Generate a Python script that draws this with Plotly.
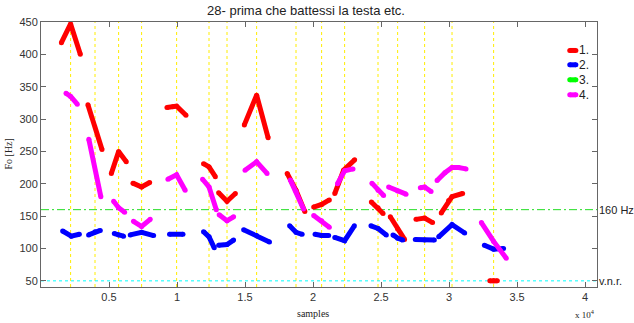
import plotly.graph_objects as go

# F0 contours per formant track; each inner list is one voiced stretch of (sample, Hz)
track_1 = [
    [(1500, 418), (2176, 447), (2890, 400)],
    [(3450, 322), (4485, 253)],
    [(5170, 216), (5706, 250), (6270, 234)],
    [(6760, 201), (7397, 195), (7990, 202)],
    [(9260, 318), (9700, 319), (9971, 320), (10660, 306)],
    [(11950, 231), (12353, 226), (12820, 211)],
    [(13060, 186), (13676, 173), (14290, 185)],
    [(14950, 291), (15853, 337), (16700, 271)],
    [(18100, 216), (18750, 190), (19400, 157)],
    [(20050, 164), (20632, 168), (21200, 175)],
    [(21600, 185), (22250, 221), (23060, 237)],
    [(24290, 172), (24779, 163), (25150, 154)],
    [(25680, 149), (26221, 130), (26730, 114)],
    [(27570, 145), (28206, 147), (28790, 140)],
    [(29430, 155), (29971, 174), (30221, 180), (31000, 185)],
    [(33000, 50), (33279, 50), (33550, 50)],
]
track_2 = [
    [(1590, 127), (2228, 119), (2820, 122)],
    [(3500, 121), (3971, 126), (4360, 128)],
    [(5390, 123), (5706, 121), (6070, 119)],
    [(6560, 121), (7397, 125), (8280, 120)],
    [(9450, 122), (10440, 122)],
    [(11950, 126), (12353, 118), (12740, 101)],
    [(13060, 105), (13676, 106), (14160, 113)],
    [(14900, 129), (15853, 120), (16800, 110)],
    [(18280, 135), (18750, 125), (19200, 122)],
    [(20150, 122), (20632, 120), (21150, 120)],
    [(21600, 117), (22324, 112), (23040, 135)],
    [(24260, 135), (24779, 131), (25390, 121)],
    [(25880, 121), (26221, 116), (26600, 113)],
    [(27520, 114), (28206, 113), (28920, 113)],
    [(29240, 118), (30221, 137), (31150, 124)],
    [(32600, 105), (33279, 99), (34010, 100)],
]
track_3 = []
track_4 = [
    [(1838, 340), (2176, 335), (2669, 323)],
    [(3515, 269), (4400, 180)],
    [(5340, 173), (5706, 163), (6150, 156)],
    [(6800, 142), (7397, 134), (8030, 145)],
    [(9330, 207), (9971, 214), (10600, 190)],
    [(11880, 207), (12353, 195), (12890, 160)],
    [(13100, 152), (13676, 143), (14160, 149)],
    [(15000, 221), (15853, 234), (16620, 216)],
    [(18330, 206), (18750, 188), (19300, 161)],
    [(20050, 151), (20632, 143), (21200, 133)],
    [(21800, 200), (22324, 220), (22940, 223)],
    [(24330, 201), (24779, 190), (25190, 182)],
    [(25560, 195), (26221, 189), (26840, 184)],
    [(27890, 194), (28206, 195), (28680, 188)],
    [(29120, 205), (29700, 217), (30221, 225), (30700, 225), (31250, 223)],
    [(32380, 140), (33279, 111), (34210, 85)],
]

# syllable boundary markers (samples)
boundaries = [2176, 3971, 5706, 7397, 9971, 12353, 13676, 15853, 18750,
              20632, 22324, 24779, 26221, 28206, 30221, 33279]

threshold_hz = 160
vnr_hz = 50

x_ticks = [5000, 10000, 15000, 20000, 25000, 30000, 35000, 40000]
x_tick_labels = ["0.5", "1", "1.5", "2", "2.5", "3", "3.5", "4"]
y_ticks = [50, 100, 150, 200, 250, 300, 350, 400, 450]

series = [("1.", "#ff0000", track_1), ("2.", "#0000ff", track_2),
          ("3.", "#00ff00", track_3), ("4.", "#ff00ff", track_4)]


def flatten(segments):
    xs, ys = [], []
    for seg in segments:
        for sx, sy in seg:
            xs.append(sx)
            ys.append(sy)
        xs.append(None)
        ys.append(None)
    return xs, ys


fig = go.Figure()

for name, color, segs in series:
    if not segs:
        continue
    xs, ys = flatten(segs)
    fig.add_trace(go.Scatter(
        x=xs, y=ys, mode="lines+markers", name=name,
        line=dict(color=color, width=5),
        marker=dict(color=color, size=5),
        connectgaps=False, showlegend=False, hoverinfo="skip"))

# legend drawn on an overlay axis in fractional coordinates
leg_x0, leg_x1 = 0.951, 0.962
leg_rows = [0.8926, 0.8385, 0.7818, 0.7251]
for (name, color, _), ly in zip(series, leg_rows):
    fig.add_trace(go.Scatter(
        x=[leg_x0, leg_x1], y=[ly, ly], mode="lines+markers",
        line=dict(color=color, width=5), marker=dict(color=color, size=5),
        xaxis="x2", yaxis="y2", showlegend=False, hoverinfo="skip"))
    fig.add_annotation(x=leg_x1, y=ly, xref="x2", yref="y2", text=name,
                       showarrow=False, xanchor="left", yanchor="middle", xshift=1,
                       font=dict(family="Liberation Sans", size=12, color="#222"))

shapes = []
for b in boundaries:
    shapes.append(dict(type="line", xref="x", yref="paper", x0=b, x1=b, y0=0, y1=1,
                       line=dict(color="#ffee00", width=1, dash="dot"), layer="below"))
shapes.append(dict(type="line", xref="paper", yref="y", x0=0, x1=1,
                   y0=threshold_hz, y1=threshold_hz,
                   line=dict(color="#22dd22", width=1, dash="8px,3px,2px,3px"), layer="below"))
shapes.append(dict(type="line", xref="paper", yref="y", x0=0, x1=1,
                   y0=vnr_hz, y1=vnr_hz,
                   line=dict(color="#00ffff", width=1, dash="dot"), layer="below"))

axis_common = dict(showline=True, linecolor="#666", linewidth=1, mirror="ticks",
                   ticks="inside", ticklen=5, tickcolor="#666", showgrid=False,
                   zeroline=False,
                   tickfont=dict(family="Liberation Sans", size=11, color="#333"))

fig.update_layout(
    width=634, height=323,
    margin=dict(l=41, r=37, t=22, b=36),
    paper_bgcolor="white", plot_bgcolor="white",
    shapes=shapes,
    xaxis=dict(range=[0, 40880], tickvals=x_ticks, ticktext=x_tick_labels, **axis_common),
    yaxis=dict(range=[40.5, 450], tickvals=y_ticks, **axis_common),
    xaxis2=dict(overlaying="x", range=[0, 1], visible=False),
    yaxis2=dict(overlaying="y", range=[0, 1], visible=False),
)

# title
fig.add_annotation(x=0.477, y=1, xref="paper", yref="paper", yshift=2,
                   text="28- prima che battessi la testa etc.", showarrow=False,
                   xanchor="center", yanchor="bottom",
                   font=dict(family="Liberation Sans", size=13, color="#222"))
# axis titles
fig.add_annotation(x=20000, y=0, xref="x", yref="paper", yshift=-26,
                   text="samples", showarrow=False, xanchor="center", yanchor="middle",
                   font=dict(family="Liberation Serif", size=10, color="#222"))
fig.add_annotation(x=1, y=0, xref="paper", yref="paper", yshift=-27, xshift=0,
                   text="x 10<sup>4</sup>", showarrow=False, xanchor="right", yanchor="middle",
                   font=dict(family="Liberation Serif", size=9, color="#222"))
fig.add_annotation(x=0, y=0.5, xref="paper", yref="paper", xshift=-33,
                   text="Fo [Hz]", showarrow=False, textangle=-90,
                   xanchor="center", yanchor="middle",
                   font=dict(family="Liberation Serif", size=10, color="#222"))
# right-hand reference labels
fig.add_annotation(x=1, y=threshold_hz, xref="paper", yref="y", text="160 Hz",
                   showarrow=False, xanchor="left", yanchor="middle", xshift=0,
                   font=dict(family="Liberation Sans", size=11, color="#222"))
fig.add_annotation(x=1, y=vnr_hz, xref="paper", yref="y", text="v.n.r.",
                   showarrow=False, xanchor="left", yanchor="middle", xshift=0,
                   font=dict(family="Liberation Sans", size=11, color="#222"))

fig.write_html("out.html")
